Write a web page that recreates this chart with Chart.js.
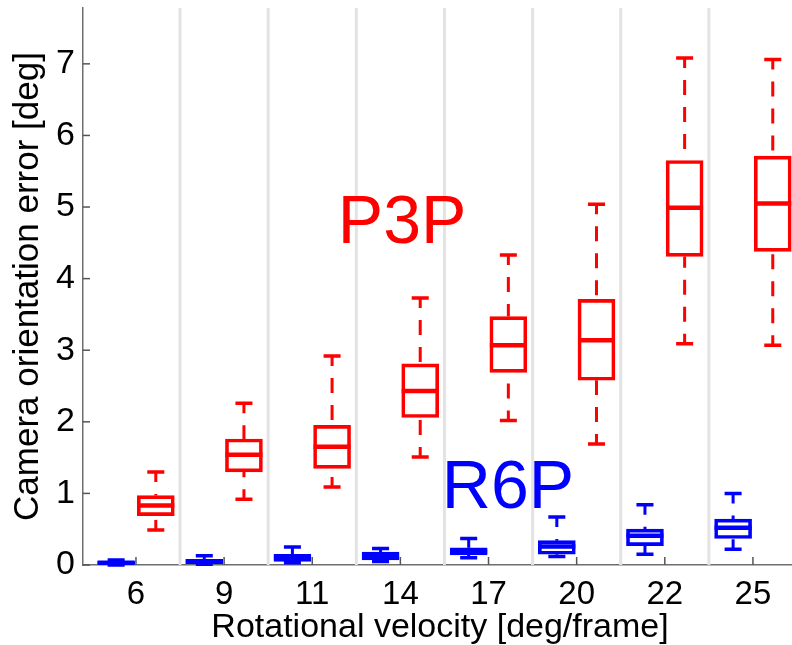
<!DOCTYPE html>
<html>
<head>
<meta charset="utf-8">
<script src="https://cdn.jsdelivr.net/npm/chart.js@4/dist/chart.umd.min.js"></script>
<style>
  html, body { margin: 0; padding: 0; background: #ffffff; overflow: hidden; }
  #wrap { width: 800px; height: 645px; }
</style>
</head>
<body>
<div id="wrap"><canvas id="c" width="800" height="645"></canvas></div>
<script>
// ---- data ----
const categories = ['6', '9', '11', '14', '17', '20', '22', '25'];
const yTicks = [0, 1, 2, 3, 4, 5, 6, 7];

// R6P (blue)
const r6pMin = [0.00, 0.01, 0.03, 0.05, 0.10, 0.12, 0.15, 0.22];
const r6pQ1  = [0.01, 0.02, 0.05, 0.07, 0.14, 0.15, 0.27, 0.37];
const r6pMed = [0.03, 0.05, 0.10, 0.12, 0.19, 0.26, 0.41, 0.52];
const r6pQ3  = [0.05, 0.08, 0.15, 0.18, 0.24, 0.34, 0.50, 0.64];
const r6pMax = [0.07, 0.13, 0.25, 0.23, 0.37, 0.67, 0.84, 1.00];

// P3P (red)
const p3pMin = [0.49, 0.92, 1.09, 1.51, 2.02, 1.69, 3.09, 3.07];
const p3pQ1  = [0.69, 1.30, 1.35, 2.06, 2.69, 2.58, 4.31, 4.38];
const p3pMed = [0.83, 1.54, 1.65, 2.43, 3.07, 3.14, 4.99, 5.05];
const p3pQ3  = [0.97, 1.76, 1.95, 2.81, 3.47, 3.71, 5.65, 5.71];
const p3pMax = [1.30, 2.26, 2.92, 3.73, 4.33, 5.04, 7.08, 7.06];

const seriesNames = ['R6P', 'P3P'];
// label anchor positions in data units [x, y]
const labelR6P = [3.47, 0.80];
const labelP3P = [2.29, 4.50];

// ---- styling ----
const BLUE = '#0000ff';
const RED = '#ff0000';
const FONT = "'Liberation Sans', Arial, Helvetica, sans-serif";
const SHIFT = 0.225;

function boxData(q1, q3, shift) {
  return categories.map((c, i) => ({ x: i + shift, y: [q1[i], q3[i]] }));
}

const boxPlugin = {
  id: 'boxplotParts',
  beforeDatasetsDraw(chart) {
    const { ctx, chartArea, scales: { x } } = chart;
    ctx.save();
    ctx.strokeStyle = '#e3e3e3';
    ctx.lineWidth = 3;
    for (let i = 0; i < categories.length - 1; i++) {
      const px = x.getPixelForValue(i + 0.5);
      ctx.beginPath();
      ctx.moveTo(px, chartArea.top);
      ctx.lineTo(px, chartArea.bottom);
      ctx.stroke();
    }
    ctx.restore();
  },
  afterDatasetsDraw(chart) {
    const { ctx, chartArea, scales: { x, y } } = chart;
    chart.data.datasets.forEach((ds, di) => {
      const meta = chart.getDatasetMeta(di);
      const color = ds.borderColor;
      meta.data.forEach((bar, i) => {
        const cx = bar.x;
        const w = bar.width;
        const pMin = y.getPixelForValue(ds.wMin[i]);
        const pMax = y.getPixelForValue(ds.wMax[i]);
        const pQ1 = y.getPixelForValue(ds.q1[i]);
        const pQ3 = y.getPixelForValue(ds.q3[i]);
        const pMed = y.getPixelForValue(ds.med[i]);
        ctx.save();
        ctx.strokeStyle = color;
        // whiskers (dashed) from cap towards box
        ctx.lineWidth = 3;
        ctx.setLineDash([15, 12]);
        ctx.lineDashOffset = 5;
        ctx.beginPath();
        ctx.moveTo(cx, pMax);
        ctx.lineTo(cx, pQ3);
        ctx.stroke();
        ctx.beginPath();
        ctx.moveTo(cx, pMin);
        ctx.lineTo(cx, pQ1);
        ctx.stroke();
        ctx.setLineDash([]);
        // caps
        ctx.lineWidth = 3.5;
        const cw = w * 0.23;
        ctx.beginPath();
        ctx.moveTo(cx - cw, pMax); ctx.lineTo(cx + cw, pMax);
        ctx.moveTo(cx - cw, pMin); ctx.lineTo(cx + cw, pMin);
        ctx.stroke();
        // median
        ctx.lineWidth = 4.5;
        ctx.beginPath();
        ctx.moveTo(cx - w / 2, pMed); ctx.lineTo(cx + w / 2, pMed);
        ctx.stroke();
        ctx.restore();
      });
    });
    // inward tick marks
    ctx.save();
    ctx.strokeStyle = '#555555';
    ctx.lineWidth = 1.5;
    yTicks.forEach(v => {
      const py = y.getPixelForValue(v);
      ctx.beginPath();
      ctx.moveTo(chartArea.left, py);
      ctx.lineTo(chartArea.left + 7, py);
      ctx.stroke();
    });
    categories.forEach((c, i) => {
      const px = x.getPixelForValue(i);
      ctx.beginPath();
      ctx.moveTo(px, chartArea.bottom);
      ctx.lineTo(px, chartArea.bottom - 8);
      ctx.stroke();
    });
    // series labels
    ctx.font = '68px ' + FONT;
    ctx.textBaseline = 'alphabetic';
    ctx.textAlign = 'left';
    ctx.fillStyle = RED;
    ctx.fillText(seriesNames[1], x.getPixelForValue(labelP3P[0]), y.getPixelForValue(labelP3P[1]));
    ctx.fillStyle = BLUE;
    ctx.fillText(seriesNames[0], x.getPixelForValue(labelR6P[0]), y.getPixelForValue(labelR6P[1]));
    ctx.restore();
  }
};

const commonBar = {
  grouped: false,
  barThickness: 37,
  borderWidth: 3,
  borderSkipped: false,
  backgroundColor: 'rgba(0,0,0,0)'
};

new Chart(document.getElementById('c'), {
  type: 'bar',
  data: {
    datasets: [
      Object.assign({
        label: seriesNames[0],
        data: boxData(r6pQ1, r6pQ3, -SHIFT),
        borderColor: BLUE,
        wMin: r6pMin, q1: r6pQ1, med: r6pMed, q3: r6pQ3, wMax: r6pMax
      }, commonBar),
      Object.assign({
        label: seriesNames[1],
        data: boxData(p3pQ1, p3pQ3, SHIFT),
        borderColor: RED,
        wMin: p3pMin, q1: p3pQ1, med: p3pMed, q3: p3pQ3, wMax: p3pMax
      }, commonBar)
    ]
  },
  options: {
    responsive: false,
    animation: false,
    devicePixelRatio: 1,
    layout: { padding: { top: 8, right: 3, left: 0, bottom: 0 } },
    plugins: { legend: { display: false }, tooltip: { enabled: false } },
    scales: {
      x: {
        type: 'linear',
        offset: false,
        min: -0.601,
        max: 7.5,
        grid: { display: false, drawTicks: false, offset: false },
        border: { display: true, color: '#6e6e6e', width: 1.5 },
        afterBuildTicks: (s) => { s.ticks = categories.map((c, i) => ({ value: i })); },
        ticks: {
          autoSkip: false,
          maxRotation: 0,
          padding: 10,
          color: '#000000',
          font: { family: FONT, size: 33 },
          callback: (v) => categories[v]
        },
        title: {
          display: true,
          text: 'Rotational velocity [deg/frame]',
          color: '#000000',
          font: { family: FONT, size: 34, lineHeight: 1 },
          padding: { top: 0, bottom: 0 }
        },
        afterFit: (s) => { s.height = 80; s.paddingLeft = 0; s.paddingRight = 0; }
      },
      y: {
        type: 'linear',
        min: 0,
        max: 7.78,
        grid: { display: false, drawTicks: false },
        border: { display: true, color: '#6e6e6e', width: 1.5 },
        afterBuildTicks: (s) => { s.ticks = yTicks.map(v => ({ value: v })); },
        ticks: {
          padding: 8,
          color: '#000000',
          font: { family: FONT, size: 34 },
          callback: (v) => String(v)
        },
        title: {
          display: true,
          text: 'Camera orientation error [deg]',
          color: '#000000',
          font: { family: FONT, size: 35, lineHeight: 1 },
          padding: { top: 11, bottom: 0 }
        },
        afterFit: (s) => { s.width = 83; s.paddingTop = 0; s.paddingBottom = 0; }
      }
    }
  },
  plugins: [boxPlugin]
});
</script>
</body>
</html>
